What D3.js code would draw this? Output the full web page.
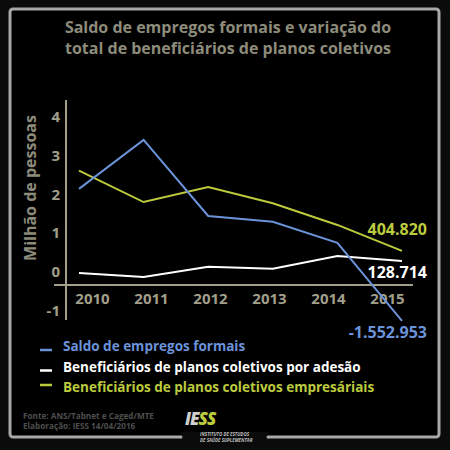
<!DOCTYPE html>
<html>
<head>
<meta charset="utf-8">
<script src="https://cdn.jsdelivr.net/npm/d3@7"></script>
<style>
  html, body { margin: 0; padding: 0; background: #0b0b0b; }
  svg { display: block; font-family: 'Open Sans', 'DejaVu Sans', sans-serif; font-weight: bold; }
</style>
</head>
<body>
<svg id="chart" width="450" height="450"></svg>
<script>
const years = ['2010', '2011', '2012', '2013', '2014', '2015'];
const yTicks = [-1, 0, 1, 2, 3, 4];

// million people
const saldoEmpregos = [2.14, 3.40, 1.44, 1.29, 0.75, -1.26];
const planosAdesao = [-0.03, -0.13, 0.13, 0.08, 0.41, 0.28];
const planosEmpresariais = [2.61, 1.80, 2.19, 1.77, 1.21, 0.54];

const endLabels = ['-1.552.953', '128.714', '404.820'];
const seriesNames = [
  'Saldo de empregos formais',
  'Beneficiários de planos coletivos por adesão',
  'Beneficiários de planos coletivos empresáriais'
];
const seriesColors = ['#6b93d9', '#ffffff', '#bccb3e'];

const axisColor = '#a19f8a';
const titleColor = '#8d8c7b';

const svg = d3.select('#chart');

// frame with a gap at the bottom for the logo
svg.append('rect')
  .attr('x', 0).attr('y', 0)
  .attr('width', 450).attr('height', 450)
  .attr('fill', '#0b0b0b');

svg.append('rect')
  .attr('x', 10).attr('y', 9)
  .attr('width', 429).attr('height', 428)
  .attr('rx', 3)
  .attr('fill', '#000')
  .attr('stroke', '#a8a8a8')
  .attr('stroke-width', 3);

svg.append('rect')
  .attr('x', 181).attr('y', 432)
  .attr('width', 87).attr('height', 12)
  .attr('fill', '#0b0b0b');

[181, 268].forEach(x => {
  svg.append('circle')
    .attr('cx', x).attr('cy', 437)
    .attr('r', 1.5)
    .attr('fill', '#a8a8a8');
});

// title
svg.append('text')
  .attr('x', 228)
  .attr('text-anchor', 'middle')
  .attr('fill', titleColor)
  .attr('font-size', '16px')
  .selectAll('tspan')
  .data(['Saldo de empregos formais e variação do', 'total de beneficiários de planos coletivos'])
  .enter()
  .append('tspan')
  .attr('x', 228)
  .attr('y', (d, i) => 33 + i * 21)
  .text(d => d);

// scales
const x = d3.scalePoint()
  .domain(years)
  .range([79, 402]);

const xLabels = d3.scalePoint()
  .domain(years)
  .range([92, 387]);

const y = d3.scaleLinear()
  .domain([-1.24, 4.43])
  .range([320, 100]);

// axes
svg.append('line')
  .attr('x1', 66).attr('x2', 66)
  .attr('y1', y(4.43)).attr('y2', y(-1.24))
  .attr('stroke', axisColor)
  .attr('stroke-width', 2);

svg.append('line')
  .attr('x1', 54).attr('x2', 413)
  .attr('y1', y(-0.335)).attr('y2', y(-0.335))
  .attr('stroke', axisColor)
  .attr('stroke-width', 2);

const yAxis = svg.append('g')
  .attr('transform', 'translate(60,0)')
  .call(d3.axisLeft(y).tickValues(yTicks).tickSize(0).tickPadding(0).tickFormat(d => String(d)));
yAxis.select('.domain').remove();
yAxis.selectAll('text')
  .attr('fill', axisColor)
  .attr('font-size', '15px')
  .attr('font-family', "'Open Sans', sans-serif")
  .attr('font-weight', 'bold');

const xAxis = svg.append('g')
  .attr('transform', 'translate(0,293)')
  .call(d3.axisBottom(xLabels).tickSize(0).tickPadding(0));
xAxis.select('.domain').remove();
xAxis.selectAll('text')
  .attr('fill', axisColor)
  .attr('font-size', '15px')
  .attr('font-family', "'Open Sans', sans-serif")
  .attr('font-weight', 'bold');

svg.append('text')
  .attr('transform', 'translate(36,188) rotate(-90)')
  .attr('text-anchor', 'middle')
  .attr('fill', titleColor)
  .attr('font-size', '16px')
  .text('Milhão de pessoas');

// lines
const line = d3.line()
  .x((d, i) => x(years[i]))
  .y(d => y(d));

const series = [saldoEmpregos, planosAdesao, planosEmpresariais];

// draw white first, then yellow, then blue on top
[1, 2, 0].forEach(i => {
  svg.append('path')
    .datum(series[i])
    .attr('fill', 'none')
    .attr('stroke', seriesColors[i])
    .attr('stroke-width', 2)
    .attr('d', line);
});

// end value labels
const endLabelY = [338, 278, 235];
endLabels.forEach((label, i) => {
  svg.append('text')
    .attr('x', 427)
    .attr('y', endLabelY[i])
    .attr('text-anchor', 'end')
    .attr('fill', seriesColors[i])
    .attr('font-size', '16px')
    .text(label);
});

// legend
const legend = svg.append('g')
  .attr('transform', 'translate(40,346)');

seriesNames.forEach((name, i) => {
  const row = legend.append('g')
    .attr('transform', `translate(0, ${i * 20.5})`);

  row.append('line')
    .attr('x1', 0).attr('x2', 12)
    .attr('y1', i === 2 ? -2 : 4).attr('y2', i === 2 ? -2 : 4)
    .attr('stroke', seriesColors[i])
    .attr('stroke-width', 2.5);

  row.append('text')
    .attr('x', 23)
    .attr('y', 5)
    .attr('fill', seriesColors[i])
    .attr('font-size', '13.5px')
    .text(name);
});

// footer
svg.append('text')
  .attr('x', 23)
  .attr('fill', '#4e4e4e')
  .attr('font-size', '8.2px')
  .selectAll('tspan')
  .data(['Fonte: ANS/Tabnet e Caged/MTE', 'Elaboração: IESS 14/04/2016'])
  .enter()
  .append('tspan')
  .attr('x', 23)
  .attr('y', (d, i) => 419 + i * 10)
  .text(d => d);

const logo = svg.append('text')
  .attr('x', 185)
  .attr('y', 425)
  .attr('font-size', '17px')
  .attr('font-style', 'italic')
  .attr('font-weight', '900')
  .attr('letter-spacing', '-1');
logo.append('tspan').attr('fill', '#cfcfcf').text('IE');
logo.append('tspan').attr('fill', '#bccb3e').text('SS');

svg.append('text')
  .attr('fill', '#bdbdbd')
  .attr('font-size', '4.5px')
  .attr('font-style', 'italic')
  .selectAll('tspan')
  .data(['INSTITUTO DE ESTUDOS', 'DE SAÚDE SUPLEMENTAR'])
  .enter()
  .append('tspan')
  .attr('x', 200)
  .attr('y', (d, i) => 435.5 + i * 6)
  .text(d => d);
</script>
</body>
</html>
